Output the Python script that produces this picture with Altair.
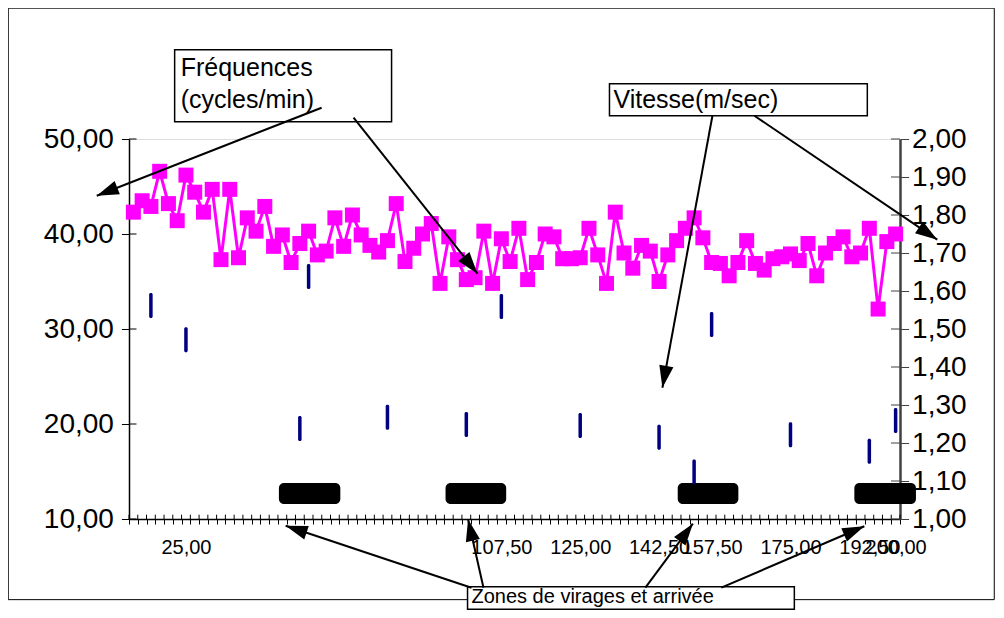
import math
import altair as alt
import pandas as pd

# ---------------- data ----------------
freq = [42.3, 43.5, 42.9, 46.6, 43.2, 41.4, 46.2, 44.4, 42.3, 44.7,
        37.3, 44.7, 37.5, 41.7, 40.3, 42.9, 38.7, 39.9, 37.0, 39.0,
        40.3, 37.8, 38.2, 41.7, 38.7, 42.0, 39.9, 38.8, 38.1, 39.3,
        43.2, 37.1, 38.5, 40.0, 41.1, 34.8, 39.7, 37.3, 35.2, 35.4,
        40.3, 34.8, 39.5, 37.1, 40.6, 35.2, 37.0, 40.0, 39.7, 37.4,
        37.4, 37.5, 40.6, 37.8, 34.8, 42.3, 38.0, 36.4, 38.8, 38.2,
        35.0, 37.8, 39.3, 40.6, 41.7, 39.6, 37.0, 36.9, 35.6, 37.0,
        39.3, 36.9, 36.2, 37.4, 37.6, 37.9, 37.2, 39.0, 35.6, 38.0,
        39.0, 39.7, 37.6, 38.0, 40.6, 32.1, 39.2, 40.0]
N_CAT = 88

speed_cat = [2, 6, 19, 20, 29, 38, 42, 51, 60, 64, 66, 75, 84, 87]
speed_val = [1.562, 1.472, 1.238, 1.638, 1.268, 1.249, 1.559, 1.246,
             1.215, 1.124, 1.512, 1.222, 1.178, 1.259]

label_cat = [6, 42, 51, 60, 66, 75, 84, 87]
label_txt = ["25,00", "107,50", "125,00", "142,50", "157,50", "175,00", "192,50", "200,00"]

left_ticks = [10, 20, 30, 40, 50]
right_ticks = [1.0, 1.1, 1.2, 1.3, 1.4, 1.5, 1.6, 1.7, 1.8, 1.9, 2.0]

# zones (in category units / left-axis units)
zone_start = [17.11, 36.13, 62.63, 82.79]
zone_end = [24.12, 43.05, 69.55, 89.82]
zone_low = [11.58, 11.58, 11.58, 11.58]
zone_high = [13.79, 13.79, 13.79, 13.79]

# annotation boxes
box_x1 = [5.21, 54.84, 38.64]
box_x2 = [29.97, 84.27, 75.94]
box_y1 = [51.82, 52.45, 0.505]
box_y2 = [59.40, 55.82, 2.87]

txt = ["Fréquences", "(cycles/min)", "Vitesse(m/sec)", "Zones de virages et arrivée"]
txt_x = [5.90, 5.90, 55.29, 39.09]
txt_y = [57.51, 54.14, 54.14, 1.75]
txt_size = [25, 25, 25, 20]

# arrows: tail -> tip
arr_tail_u = [21.98, 25.63, 66.59, 71.38, 39.09, 40.46, 58.94, 67.61]
arr_tail_v = [53.29, 52.24, 52.45, 52.45, 2.77, 2.77, 2.77, 2.77]
arr_tip_u = [-3.68, 39.78, 60.88, 92.25, 17.88, 38.70, 64.36, 83.93]
arr_tip_v = [44.03, 35.82, 23.82, 39.40, 9.29, 9.98, 9.51, 9.24]

# outer frame
frame_x = [-13.78]
frame_x2 = [98.76]
frame_y = [1.51]
frame_y2 = [63.77]

# ---------------- layout ----------------
W, H = 771, 380
PX_U = W / N_CAT
PX_V = H / 40.0
FONT = "Liberation Sans"

df_freq = pd.DataFrame({"u": [i + 0.5 for i in range(N_CAT)], "f": freq})
df_speed = pd.DataFrame({"u": [c + 0.5 for c in speed_cat], "s": speed_val})
df_zone = pd.DataFrame({"a": zone_start, "b": zone_end, "lo": zone_low, "hi": zone_high})
df_box = pd.DataFrame({"a": box_x1, "b": box_x2, "lo": box_y1, "hi": box_y2})
df_txt = pd.DataFrame({"u": txt_x, "v": txt_y, "t": txt, "fs": txt_size})
angles = []
for tu, tv, hu, hv in zip(arr_tail_u, arr_tail_v, arr_tip_u, arr_tip_v):
    dx = (hu - tu) * PX_U
    dy = -(hv - tv) * PX_V
    angles.append(math.degrees(math.atan2(dx, -dy)) % 360)
df_arr = pd.DataFrame({"u0": arr_tail_u, "v0": arr_tail_v, "u1": arr_tip_u,
                       "v1": arr_tip_v, "ang": angles})
df_frame = pd.DataFrame({"a": frame_x, "b": frame_x2, "lo": frame_y, "hi": frame_y2})
df_lt = pd.DataFrame({"v": left_ticks, "a": [0.0] * len(left_ticks),
                      "b": [7.5 / PX_U] * len(left_ticks)})
df_bt = pd.DataFrame({"u": list(range(N_CAT + 1))})
df_bt["lo"] = 10.0
df_bt["hi"] = 10.0 + 4.3 / PX_V
df_rt = pd.DataFrame({"s": right_ticks})
df_rt["a"] = N_CAT - 9.0 / PX_U
df_rt["b"] = float(N_CAT)

xscale = alt.Scale(domain=[0, N_CAT], nice=False, zero=False)
yscale = alt.Scale(domain=[10, 50], nice=False, zero=False)
sscale = alt.Scale(domain=[1, 2], nice=False, zero=False)

lbl_expr = ("indexof(" + str(label_cat) + ", datum.value) >= 0 ? "
            + str(label_txt) + "[indexof(" + str(label_cat) + ", datum.value)] : ''")
xaxis = alt.Axis(values=list(range(N_CAT + 1)), labelExpr=lbl_expr, labelOffset=PX_U / 2,
                 tickSize=5, tickColor="black", tickWidth=1, domainColor="black", domainWidth=1.5,
                 labelFont=FONT, labelFontSize=20, labelColor="black", labelPadding=13,
                 labelOverlap=False, labelBound=False, labelFlush=False, title=None, grid=False)
num_expr = "replace(format(datum.value, '.2f'), '.', ',')"
yaxis = alt.Axis(values=left_ticks, labelExpr=num_expr, orient="left", tickSize=7.6,
                 tickColor="black", tickWidth=1, domainColor="black", domainWidth=1.5,
                 labelFont=FONT, labelFontSize=28, labelColor="black", labelPadding=8,
                 title=None, grid=False, labelBound=False, labelFlush=False)
saxis = alt.Axis(values=right_ticks, labelExpr=num_expr, orient="right", tickSize=8.6,
                 tickColor="#404040", tickWidth=1, domainColor="#404040", domainWidth=2.5,
                 labelFont=FONT, labelFontSize=28, labelColor="black", labelPadding=3,
                 title=None, grid=False, labelBound=False, labelFlush=False)


def X(f):
    return alt.X(f, type="quantitative", scale=xscale, axis=xaxis)


def Y(f):
    return alt.Y(f, type="quantitative", scale=yscale, axis=yaxis)


def S(f):
    return alt.Y(f, type="quantitative", scale=sscale, axis=saxis)


line = alt.Chart(df_freq).mark_line(color="#FF00FF", strokeWidth=3).encode(x=X("u"), y=Y("f"))
pts = alt.Chart(df_freq).mark_point(shape="square", filled=True, size=225, color="#FF00FF",
                                    opacity=1).encode(x=X("u"), y=Y("f"))
lt = alt.Chart(df_lt).mark_rule(color="black", strokeWidth=1).encode(
    x=X("a"), x2="b", y=Y("v"))
bt = alt.Chart(df_bt).mark_rule(color="black", strokeWidth=1).encode(
    x=X("u"), y=Y("lo"), y2="hi")
zones = alt.Chart(df_zone).mark_rect(color="black", cornerRadius=5, opacity=1).encode(
    x=X("a"), x2="b", y=Y("lo"), y2="hi")
frame = alt.Chart(df_frame).mark_rect(fill=None, stroke="black", strokeWidth=1).encode(
    x=X("a"), x2="b", y=Y("lo"), y2="hi")
boxes = alt.Chart(df_box).mark_rect(fill="white", stroke="black", strokeWidth=1.5,
                                    opacity=1).encode(
    x=X("a"), x2="b", y=Y("lo"), y2="hi")
texts = alt.Chart(df_txt).mark_text(align="left", baseline="middle", font=FONT,
                                    color="black").encode(
    x=X("u"), y=Y("v"), text="t:N", size=alt.Size("fs:Q", scale=None, legend=None))
arr_lines = alt.Chart(df_arr).mark_rule(color="black", strokeWidth=2).encode(
    x=X("u0"), y=Y("v0"), x2="u1", y2="v1")
arr_heads = alt.Chart(df_arr).mark_point(shape="M0,0 L0.65,2 L-0.65,2 Z", filled=True,
                                         size=484, color="black", opacity=1,
                                         strokeWidth=0).encode(
    x=X("u1"), y=Y("v1"), angle=alt.Angle("ang:Q", scale=None))

left = alt.layer(line, pts, lt, bt, frame, boxes, texts, zones, arr_lines, arr_heads)

sticks = alt.Chart(df_speed).mark_tick(orient="vertical", size=25, thickness=3.5,
                                       color="#000080", opacity=1,
                                       cornerRadius=1.5).encode(x=X("u"), y=S("s"))
rt = alt.Chart(df_rt).mark_rule(color="#404040", strokeWidth=1).encode(
    x=X("a"), x2="b", y=S("s"))
right = alt.layer(sticks, rt)

chart = alt.layer(left, right).resolve_scale(y="independent").properties(
    width=W, height=H,
    autosize=alt.AutoSizeParams(type="none"),
    padding={"left": 121, "top": 131, "right": 96, "bottom": 91},
).configure_view(stroke="#808080", strokeWidth=1.5).configure(background="white")

chart.save("out.html", embed_options={"renderer": "svg", "actions": False})
